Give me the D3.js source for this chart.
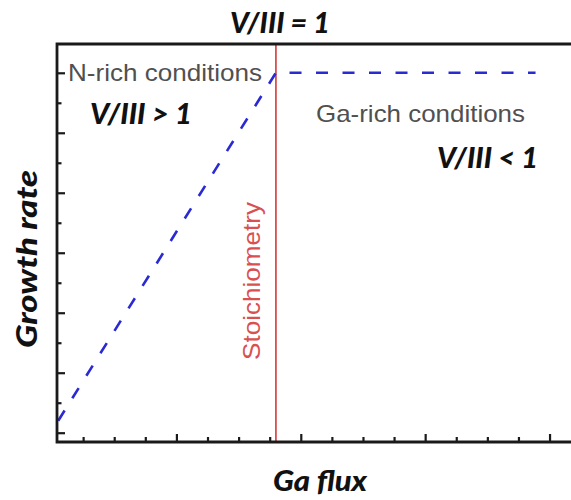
<!DOCTYPE html>
<html>
<head>
<meta charset="utf-8">
<script src="https://cdn.jsdelivr.net/npm/d3@7"></script>
<style>
  html, body { margin: 0; padding: 0; background: #fff; }
  svg { display: block; }
</style>
</head>
<body>
<svg id="chart" width="571" height="500"></svg>
<script>
// ---- data ----
const xTicks = [1, 2, 3, 4, 5, 6, 7, 8, 9, 10, 11, 12, 13, 14, 15, 16];
const xMajor = [4, 8, 12, 16];
const yTicks = [0, 1, 2, 3, 4, 5, 6, 7, 8, 9, 10, 11, 12];
const yMajor = [0, 2, 4, 6, 8, 10, 12];
const stoichX = 7.2;                      // Ga flux at V/III = 1
const growthX = [0.2, 7.2, 15.55];        // Ga flux
const growthY = [0.4, 12.0, 12.0];        // growth rate
const labels = {
  title: "V/III = 1",
  nRich: "N-rich conditions",
  gaRich: "Ga-rich conditions",
  gt: "V/III > 1",
  lt: "V/III < 1",
  stoich: "Stoichiometry",
  xTitle: "Ga flux",
  yTitle: "Growth rate"
};

// ---- layout ----
const svg = d3.select("#chart");
const mLeft = 57, mRight = 571, mTop = 44, mBottom = 442;
const x = d3.scaleLinear().domain([0.16, 16.69]).range([mLeft, mRight]);
const y = d3.scaleLinear().domain([-0.31, 12.96]).range([mBottom, mTop]);

const axisColor = "#1a1a1a";
const blue = "#2a2ad2";
const red = "#d95050";
const gray = "#505050";
const boldItalic = "Lato, 'Open Sans', sans-serif";

// stoichiometry line
svg.append("line")
  .attr("x1", x(stoichX)).attr("x2", x(stoichX))
  .attr("y1", mTop).attr("y2", mBottom)
  .attr("stroke", red).attr("stroke-width", 1.8);

// growth-rate dashed line
const pts = growthX.map((d, i) => [d, growthY[i]]);
svg.append("path")
  .attr("d", d3.line().x(d => x(d[0])).y(d => y(d[1]))(pts))
  .attr("fill", "none")
  .attr("stroke", blue)
  .attr("stroke-width", 2.6)
  .attr("stroke-dasharray", "12,14.5");

// axes
const xAxis = svg.append("g")
  .attr("transform", `translate(0,${mBottom})`)
  .call(d3.axisBottom(x).tickValues(xTicks).tickSize(0).tickFormat(""));
xAxis.select(".domain").remove();
xAxis.selectAll(".tick line")
  .attr("y2", d => xMajor.includes(d) ? -8 : -5)
  .attr("stroke", axisColor).attr("stroke-width", 2.2);

const yAxis = svg.append("g")
  .attr("transform", `translate(${mLeft},0)`)
  .call(d3.axisLeft(y).tickValues(yTicks).tickSize(0).tickFormat(""));
yAxis.select(".domain").remove();
yAxis.selectAll(".tick line")
  .attr("x2", d => yMajor.includes(d) ? 8 : 4.5)
  .attr("stroke", axisColor).attr("stroke-width", 2.2);

// frame: left, bottom, top
svg.append("path")
  .attr("d", `M${mRight},${mTop}H${mLeft}V${mBottom}H${mRight}`)
  .attr("fill", "none")
  .attr("stroke", axisColor)
  .attr("stroke-width", 2.8);

// texts
function bi(txt, cx, cy, len) {
  return svg.append("text")
    .attr("x", cx).attr("y", cy)
    .attr("font-family", boldItalic)
    .attr("font-weight", 900)
    .attr("font-style", "italic")
    .attr("font-size", 28)
    .attr("fill", "#111")
    .attr("textLength", len).attr("lengthAdjust", "spacingAndGlyphs")
    .text(txt);
}
bi(labels.title, 230, 33, 100);
bi(labels.gt, 90, 124, 102);
bi(labels.lt, 437, 168, 101);
bi(labels.xTitle, 273, 491, 94);

svg.append("text")
  .attr("transform", "translate(37,348) rotate(-90)")
  .attr("font-family", boldItalic)
  .attr("font-weight", 900).attr("font-style", "italic")
  .attr("font-size", 28).attr("fill", "#111")
  .attr("textLength", 178).attr("lengthAdjust", "spacingAndGlyphs")
  .text(labels.yTitle);

function reg(txt, cx, cy, len) {
  svg.append("text")
    .attr("x", cx).attr("y", cy)
    .attr("font-family", "'Liberation Sans', Arial, sans-serif")
    .attr("font-size", 24)
    .attr("fill", gray)
    .attr("textLength", len).attr("lengthAdjust", "spacingAndGlyphs")
    .text(txt);
}
reg(labels.nRich, 68, 81, 194);
reg(labels.gaRich, 316, 122, 209);

svg.append("text")
  .attr("transform", `translate(${x(stoichX) - 16},360) rotate(-90)`)
  .attr("font-family", "'Liberation Sans', Arial, sans-serif")
  .attr("font-size", 24)
  .attr("fill", red)
  .attr("textLength", 158).attr("lengthAdjust", "spacingAndGlyphs")
  .text(labels.stoich);
</script>
</body>
</html>
